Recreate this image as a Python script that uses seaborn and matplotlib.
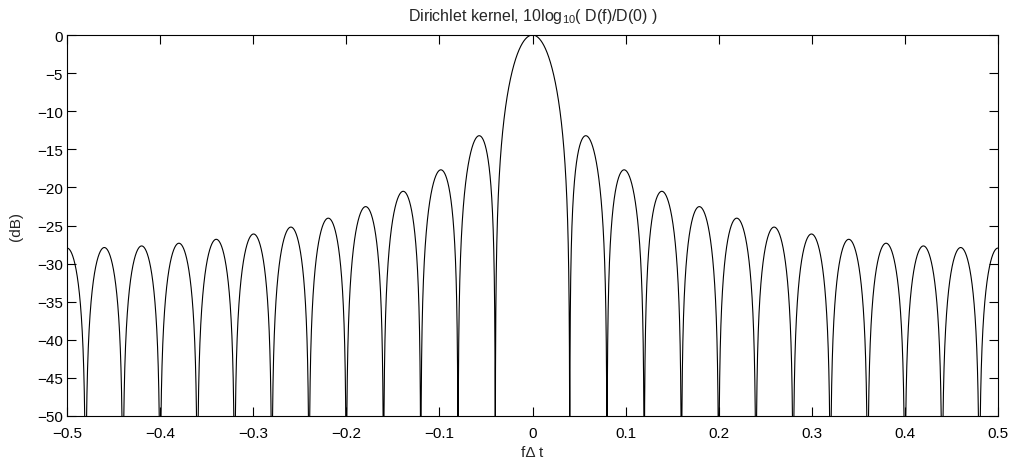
import numpy as np
import pandas as pd
import matplotlib
matplotlib.use("Agg")
import matplotlib.pyplot as plt
import seaborn as sns

# --- chart parameters / data ---
n_terms = 25                      # Dirichlet kernel length (nulls at k/25)
freq = np.linspace(-0.5, 0.5, 20001)
x_ticks = [-0.5, -0.4, -0.3, -0.2, -0.1, 0.0, 0.1, 0.2, 0.3, 0.4, 0.5]
x_tick_labels = ["\u22120.5", "\u22120.4", "\u22120.3", "\u22120.2", "\u22120.1", "0",
                 "0.1", "0.2", "0.3", "0.4", "0.5"]
y_ticks = [0, -5, -10, -15, -20, -25, -30, -35, -40, -45, -50]
y_tick_labels = ["0", "\u22125", "\u221210", "\u221215", "\u221220", "\u221225",
                 "\u221230", "\u221235", "\u221240", "\u221245", "\u221250"]

num = np.sin(np.pi * freq * n_terms)
den = n_terms * np.sin(np.pi * freq)
with np.errstate(divide="ignore", invalid="ignore"):
    ratio = np.where(np.abs(den) < 1e-12, 1.0, num / den)
db = 10 * np.log10(np.maximum(ratio ** 2, 1e-30))
df = pd.DataFrame({"f": freq, "dB": db})

sns.set_style("ticks")
plt.rcParams["font.family"] = ["Liberation Sans", "DejaVu Sans"]
plt.rcParams["mathtext.default"] = "regular"
plt.rcParams["axes.linewidth"] = 0.8

fig = plt.figure(figsize=(10.17, 4.64), dpi=100)
ax = fig.add_axes([0.0659, 0.1013, 0.9154, 0.8211])
sns.lineplot(data=df, x="f", y="dB", ax=ax, color="black", linewidth=0.8,
             estimator=None, sort=False)
ax.set_xlim(-0.5, 0.5)
ax.set_ylim(-50, 0)
ax.set_xticks(x_ticks)
ax.set_xticklabels(x_tick_labels)
ax.set_yticks(y_ticks)
ax.set_yticklabels(y_tick_labels)
ax.tick_params(direction="in", top=True, right=True, length=6.5, width=0.8,
               labelsize=11, colors="black")
ax.tick_params(axis="x", pad=7)
ax.tick_params(axis="y", pad=3)
for s in ax.spines.values():
    s.set_visible(True)
    s.set_color("black")
ax.set_xlabel("f\u0394 t", fontsize=11, labelpad=4)
ax.set_ylabel("(dB)", fontsize=11, labelpad=10)
ax.set_title("Dirichlet kernel, 10log$_{10}$( D(f)/D(0) )", fontsize=11.5, pad=11)

fig.savefig("out.png", dpi=100, facecolor="white")
